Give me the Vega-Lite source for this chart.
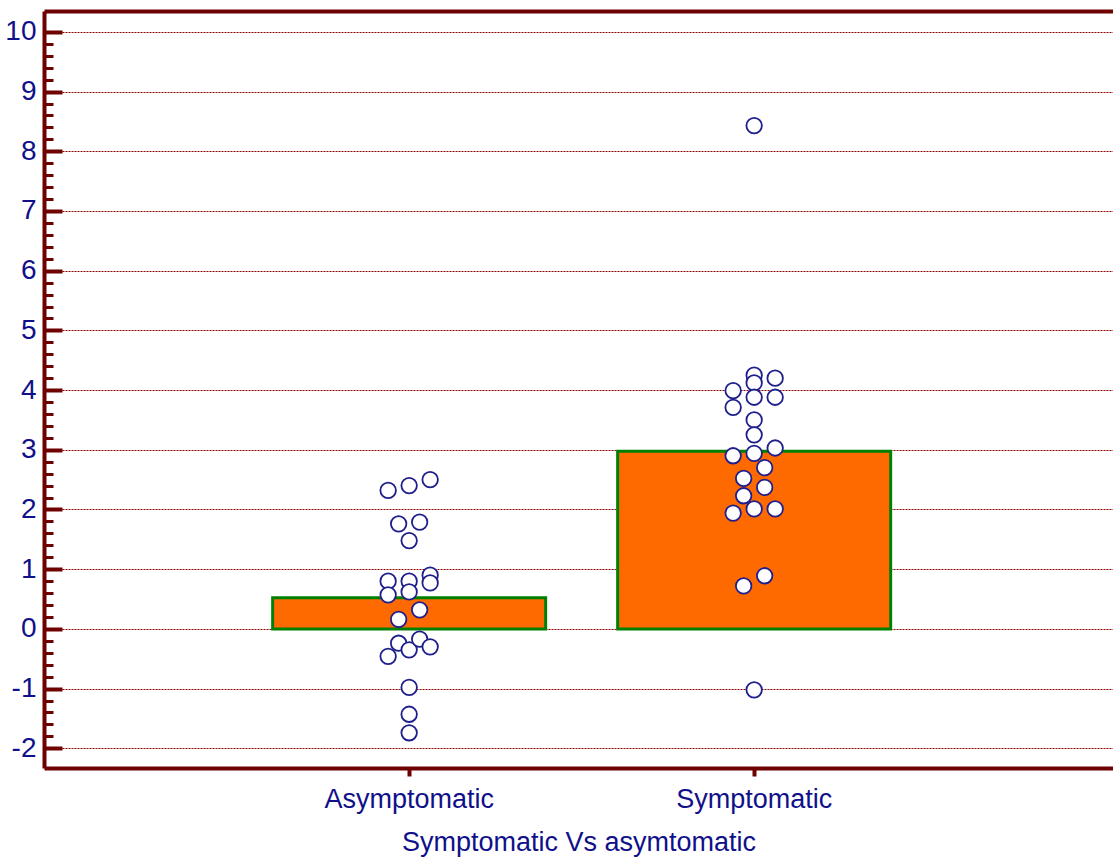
{
  "$schema": "https://vega.github.io/schema/vega-lite/v6.json",
  "width": 1069,
  "height": 757,
  "autosize": "none",
  "padding": {"left": 44, "top": 11, "right": 0, "bottom": 89},
  "background": "white",
  "config": {
    "view": {"stroke": null},
    "font": "Liberation Sans",
    "axis": {"labelFont": "Liberation Sans", "titleFont": "Liberation Sans"}
  },
  "data": {
    "values": [
      {"group": "Asymptomatic", "slot": -2, "value": 2.32},
      {"group": "Asymptomatic", "slot": 0, "value": 2.40},
      {"group": "Asymptomatic", "slot": 2, "value": 2.50},
      {"group": "Asymptomatic", "slot": -1, "value": 1.76},
      {"group": "Asymptomatic", "slot": 1, "value": 1.79},
      {"group": "Asymptomatic", "slot": 0, "value": 1.48},
      {"group": "Asymptomatic", "slot": -2, "value": 0.80},
      {"group": "Asymptomatic", "slot": 0, "value": 0.80},
      {"group": "Asymptomatic", "slot": 2, "value": 0.90},
      {"group": "Asymptomatic", "slot": 2, "value": 0.77},
      {"group": "Asymptomatic", "slot": -2, "value": 0.57},
      {"group": "Asymptomatic", "slot": 0, "value": 0.62},
      {"group": "Asymptomatic", "slot": 1, "value": 0.32},
      {"group": "Asymptomatic", "slot": -1, "value": 0.16},
      {"group": "Asymptomatic", "slot": -1, "value": -0.24},
      {"group": "Asymptomatic", "slot": 0, "value": -0.35},
      {"group": "Asymptomatic", "slot": 1, "value": -0.17},
      {"group": "Asymptomatic", "slot": 2, "value": -0.30},
      {"group": "Asymptomatic", "slot": -2, "value": -0.46},
      {"group": "Asymptomatic", "slot": 0, "value": -0.98},
      {"group": "Asymptomatic", "slot": 0, "value": -1.43},
      {"group": "Asymptomatic", "slot": 0, "value": -1.74},
      {"group": "Symptomatic", "slot": 0, "value": 4.25},
      {"group": "Symptomatic", "slot": 0, "value": 4.12},
      {"group": "Symptomatic", "slot": 2, "value": 4.20},
      {"group": "Symptomatic", "slot": -2, "value": 3.99},
      {"group": "Symptomatic", "slot": 0, "value": 3.88},
      {"group": "Symptomatic", "slot": 2, "value": 3.88},
      {"group": "Symptomatic", "slot": -2, "value": 3.71},
      {"group": "Symptomatic", "slot": 0, "value": 3.50},
      {"group": "Symptomatic", "slot": 0, "value": 3.25},
      {"group": "Symptomatic", "slot": -2, "value": 2.90},
      {"group": "Symptomatic", "slot": 0, "value": 2.94},
      {"group": "Symptomatic", "slot": 2, "value": 3.03},
      {"group": "Symptomatic", "slot": 1, "value": 2.70},
      {"group": "Symptomatic", "slot": -1, "value": 2.52},
      {"group": "Symptomatic", "slot": 1, "value": 2.37},
      {"group": "Symptomatic", "slot": -1, "value": 2.23},
      {"group": "Symptomatic", "slot": -2, "value": 1.94},
      {"group": "Symptomatic", "slot": 0, "value": 2.01},
      {"group": "Symptomatic", "slot": 2, "value": 2.01},
      {"group": "Symptomatic", "slot": 1, "value": 0.89},
      {"group": "Symptomatic", "slot": -1, "value": 0.72},
      {"group": "Symptomatic", "slot": 0, "value": 8.43},
      {"group": "Symptomatic", "slot": 0, "value": -1.02}
    ]
  },
  "encoding": {
    "x": {
      "field": "group",
      "type": "nominal",
      "sort": ["Asymptomatic", "Symptomatic"],
      "scale": {"type": "band", "paddingInner": 0.2087, "paddingOuter": 0.6536, "align": 0.507},
      "axis": {
        "orient": "bottom",
        "title": "Symptomatic Vs asymtomatic",
        "titleFontSize": 27,
        "titleFontWeight": "normal",
        "titleColor": "#10108a",
        "titlePadding": 17,
        "labelAngle": 0,
        "labelFontSize": 27,
        "labelColor": "#10108a",
        "labelPadding": 10,
        "domainColor": "#6e0000",
        "domainWidth": 4,
        "tickColor": "#6e0000",
        "tickWidth": 4,
        "tickSize": 8,
        "grid": false
      }
    },
    "y": {
      "field": "value",
      "type": "quantitative",
      "scale": {"domain": [-2.33, 10.35], "nice": false, "zero": false},
      "axis": {
        "orient": "left",
        "title": null,
        "values": [-2, -1, 0, 1, 2, 3, 4, 5, 6, 7, 8, 9, 10],
        "labelExpr": "'' + round(datum.value)",
        "labelOverlap": false,
        "labelFontSize": 28,
        "labelColor": "#10108a",
        "labelPadding": 26,
        "domainColor": "#6e0000",
        "domainWidth": 4,
        "tickColor": "#6e0000",
        "tickSize": -18,
        "tickWidth": 4,
        "grid": true,
        "gridColor": "#8a0000",
        "gridWidth": 1,
        "gridDash": [2, 1]
      }
    }
  },
  "layer": [
    {
      "transform": [{"aggregate": [{"op": "mean", "field": "value", "as": "value"}], "groupby": ["group"]}],
      "mark": {"type": "bar", "color": "#ff6a00", "stroke": "#008000", "strokeWidth": 3, "width": {"band": 1}}
    },
    {
      "mark": {"type": "point", "shape": "circle", "filled": false, "fill": "white", "fillOpacity": 1, "stroke": "#1e1e8c", "strokeWidth": 1.8, "opacity": 1, "size": 240},
      "encoding": {
        "x": {
          "field": "group",
          "type": "nominal",
          "sort": ["Asymptomatic", "Symptomatic"],
          "axis": {"orient": "top", "labels": false, "ticks": false, "title": null, "grid": false, "domainColor": "#6e0000", "domainWidth": 4}
        },
        "y": {
          "field": "value",
          "type": "quantitative",
          "axis": {
            "orient": "left",
            "title": null,
            "values": [-1.8, -1.6, -1.4, -1.2, -0.8, -0.6, -0.4, -0.2, 0.2, 0.4, 0.6, 0.8, 1.2, 1.4, 1.6, 1.8, 2.2, 2.4, 2.6, 2.8, 3.2, 3.4, 3.6, 3.8, 4.2, 4.4, 4.6, 4.8, 5.2, 5.4, 5.6, 5.8, 6.2, 6.4, 6.6, 6.8, 7.2, 7.4, 7.6, 7.8, 8.2, 8.4, 8.6, 8.8, 9.2, 9.4, 9.6, 9.8],
            "labels": false,
            "domain": false,
            "grid": false,
            "tickColor": "#6e0000",
            "tickSize": -9,
            "tickWidth": 3
          }
        },
        "xOffset": {"field": "slot", "type": "quantitative", "scale": {"domain": [-2, 2], "range": [115.5, 157.5]}}
      }
    }
  ],
  "resolve": {"axis": {"x": "independent", "y": "independent"}, "scale": {"xOffset": "independent"}}
}
